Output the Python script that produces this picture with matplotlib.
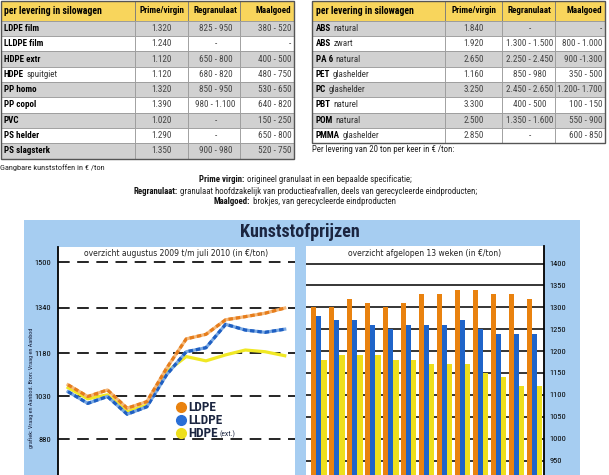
import matplotlib.pyplot as plt
from matplotlib import font_manager as fm
from matplotlib.patches import Rectangle
from matplotlib.lines import Line2D

W, H = 609, 475

# smalle letter (Helvetica Condensed-achtig) als die er is
namen = {f.name for f in fm.fontManager.ttflist}
SMAL = 'DejaVu Sans'
for kand in ['Roboto Condensed', 'Archivo Narrow', 'Asap Condensed', 'Liberation Sans Narrow']:
    if kand in namen:
        SMAL = kand
        break
plt.rcParams['font.family'] = [SMAL, 'DejaVu Sans']

# tabel links: gangbare kunststoffen
kop = ["per levering in silowagen", "Prime/virgin", "Regranulaat", "Maalgoed"]
l_vet = ["LDPE film", "LLDPE film", "HDPE extr", "HDPE", "PP homo", "PP copol", "PVC", "PS helder", "PS slagsterk"]
l_rest = ["", "", "", "spuitgiet", "", "", "", "", ""]
l_prime = ["1.320", "1.240", "1.120", "1.120", "1.320", "1.390", "1.020", "1.290", "1.350"]
l_regr = ["825 - 950", "-", "650 - 800", "680 - 820", "850 - 950", "980 - 1.100", "-", "-", "900 - 980"]
l_maal = ["380 - 520", "-", "400 - 500", "480 - 750", "530 - 650", "640 - 820", "150 - 250", "650 - 800", "520 - 750"]

# tabel rechts: technische kunststoffen
r_vet = ["ABS", "ABS", "PA 6", "PET", "PC", "PBT", "POM", "PMMA"]
r_rest = ["natural", "zwart", "natural", "glashelder", "glashelder", "naturel", "natural", "glashelder"]
r_prime = ["1.840", "1.920", "2.650", "1.160", "3.250", "3.300", "2.500", "2.850"]
r_regr = ["-", "1.300 - 1.500", "2.250 - 2.450", "850 - 980", "2.450 - 2.650", "400 - 500", "1.350 - 1.600", "-"]
r_maal = ["-", "800 - 1.000", "900 -1.300", "350 - 500", "1.200- 1.700", "100 - 150", "550 - 900", "600 - 850"]

# grafiek links: maandprijzen aug 2009 t/m jul 2010
maanden = list(range(12))
ldpe = [1070, 1029, 1052, 988, 1011, 1128, 1231, 1247, 1298, 1309, 1321, 1339]
lldpe = [1046, 1005, 1029, 967, 993, 1105, 1186, 1200, 1282, 1262, 1254, 1265]
hdpe = [1060, 1021, 1035, 976, 999, 1116, 1169, 1154, 1175, 1192, 1186, 1172]
links_ticks = [880, 1030, 1180, 1340, 1500]

# grafiek rechts: afgelopen 13 weken
weken = list(range(13))
w_ldpe = [1300, 1300, 1320, 1310, 1300, 1310, 1330, 1330, 1340, 1340, 1330, 1330, 1320]
w_lldpe = [1280, 1270, 1270, 1260, 1250, 1260, 1260, 1260, 1270, 1250, 1240, 1240, 1240]
w_hdpe = [1180, 1190, 1190, 1190, 1180, 1180, 1170, 1170, 1170, 1150, 1140, 1120, 1120]
rechts_ticks = [950, 1000, 1050, 1100, 1150, 1200, 1250, 1300, 1350, 1400]

ORANJE, BLAUW, GEEL = '#e9820f', '#1f64c9', '#eedf1c'
NAVY = '#1b2540'


def rect(x0, y0, x1, y1):
    return [x0 / W, 1 - y1 / H, (x1 - x0) / W, (y1 - y0) / H]


fig = plt.figure(figsize=(W / 100, H / 100), dpi=100)
bg = fig.add_axes([0, 0, 1, 1])
bg.set_xlim(0, W)
bg.set_ylim(H, 0)
bg.axis('off')
rend = fig.canvas.get_renderer()


def tabel(xs, vet, rest, prime, regr, maal, kop_h=20.3, rij_h=15.3):
    y = 0.5
    for c in range(4):
        bg.add_patch(Rectangle((xs[c], y), xs[c + 1] - xs[c], kop_h, fc='#f8d55c', ec='#7a7a7a', lw=0.6))
    yc = y + kop_h / 2
    bg.text(xs[0] + 3.5, yc, kop[0], fontsize=7, fontweight='bold', va='center', ha='left')
    bg.text((xs[1] + xs[2]) / 2, yc, kop[1], fontsize=6.5, fontweight='bold', va='center', ha='center')
    bg.text((xs[2] + xs[3]) / 2 + 1, yc, kop[2], fontsize=6.5, fontweight='bold', va='center', ha='center')
    bg.text(xs[4] - 3, yc, kop[3], fontsize=6.5, fontweight='bold', va='center', ha='right')
    y += kop_h
    for r in range(len(vet)):
        fc = '#d1d1d1' if r % 2 == 0 else 'white'
        for c in range(4):
            bg.add_patch(Rectangle((xs[c], y), xs[c + 1] - xs[c], rij_h, fc=fc, ec='#9a9a9a', lw=0.6))
        yc = y + rij_h / 2
        t = bg.text(xs[0] + 3.5, yc, vet[r], fontsize=6.5, fontweight='bold', va='center', ha='left')
        if rest[r]:
            bg.annotate(rest[r], xy=(1, 0), xycoords=t, xytext=(2, 0), textcoords='offset points',
                        fontsize=6.5, va='bottom', ha='left', color='#333333')
        bg.text((xs[1] + xs[2]) / 2, yc, prime[r], fontsize=6.6, va='center', ha='center', color='#444444')
        bg.text((xs[2] + xs[3]) / 2 + 1.5, yc, regr[r], fontsize=6.6, va='center', ha='center', color='#444444')
        bg.text(xs[4] - 2.5, yc, maal[r], fontsize=6.6, va='center', ha='right', color='#444444')
        y += rij_h
    bg.add_patch(Rectangle((xs[0], 0.5), xs[-1] - xs[0], y - 0.5, fc='none', ec='#555555', lw=1.0))
    return y


tabel([0.5, 135, 188, 240, 294], l_vet, l_rest, l_prime, l_regr, l_maal)
tabel([312, 445, 502, 555, 605], r_vet, r_rest, r_prime, r_regr, r_maal)

bg.text(0.5, 168, "Gangbare kunststoffen in € /ton", fontsize=6, va='center', ha='left', color='#222222')
bg.text(312, 150, "Per levering van 20 ton per keer in € /ton:", fontsize=6.3, va='center', ha='left', color='#222222')

# uitleg: vet begrip + gewone tekst, samen gecentreerd
uitleg = [("Prime virgin:", "origineel granulaat in een bepaalde specificatie;"),
          ("Regranulaat:", "granulaat hoofdzakelijk van productieafvallen, deels van gerecycleerde eindproducten;"),
          ("Maalgoed:", "brokjes, van gerecycleerde eindproducten")]
for i, (a, b) in enumerate(uitleg):
    y = 180 + i * 11
    ta = bg.text(0, y, a, fontsize=6.3, fontweight='bold', va='center', ha='left', color='#111111')
    tb = bg.text(0, y, b, fontsize=6.3, va='center', ha='left', color='#222222')
    wa = ta.get_window_extent(rend).width
    wb = tb.get_window_extent(rend).width
    x0 = 305 - (wa + 2.5 + wb) / 2
    ta.set_x(x0)
    tb.set_x(x0 + wa + 2.5)

# blauw paneel
bg.add_patch(Rectangle((24, 220), 556, 260, fc='#a6cdf1', ec='none'))
bg.text(300, 232, "Kunststofprijzen", fontsize=13, fontweight='bold', color=NAVY, ha='center', va='center')
bg.text(31, 328, "grafiek: Vraag en Aanbod. Bron: Vraag en Aanbod", fontsize=4.5, rotation=90,
        ha='center', va='top', color=NAVY)

# lijngrafiek
ax1 = fig.add_axes(rect(58, 247, 295, 475))
ax1.set_facecolor('white')
ax1.set_xlim(-0.51, 11.52)
ax1.set_ylim(754, 1553)
for s in ['top', 'right', 'bottom']:
    ax1.spines[s].set_visible(False)
ax1.spines['left'].set_linewidth(1.3)
ax1.set_xticks([])
ax1.set_yticks(links_ticks)
ax1.set_yticklabels([str(v) for v in links_ticks], fontsize=6)
ax1.tick_params(axis='y', length=0, pad=5)
for v in links_ticks:
    ax1.axhline(v, color='black', lw=1.2, ls=(0, (7, 4.5)), zorder=1)
ax1.plot(maanden, hdpe, color='#f0e824', lw=2.3, zorder=3)
ax1.plot(maanden, lldpe, color='#7aa9e3', lw=2.3, zorder=4)
ax1.plot(maanden, lldpe, color='#1f5fc2', lw=2.3, ls=(0, (1.4, 0.9)), zorder=4)
ax1.plot(maanden, ldpe, color='#f4b87a', lw=2.3, zorder=5)
ax1.plot(maanden, ldpe, color='#e67d1c', lw=2.3, ls=(0, (1.4, 0.9)), zorder=5)
ax1.text(0.5, 0.972, "overzicht augustus 2009 t/m juli 2010 (in €/ton)", transform=ax1.transAxes,
         fontsize=5.5, family='DejaVu Sans', ha='center', va='center', color='#222222')

handles = [Line2D([], [], ls='', marker='o', markersize=7, color=c) for c in (ORANJE, '#2a6fd6', GEEL)]
leg = ax1.legend(handles, ["LDPE", "LLDPE", "HDPE"], loc='upper left', bbox_to_anchor=(0.468, 0.352),
                 frameon=False, borderpad=0, handlelength=0.8, handletextpad=0.2, labelspacing=0.0,
                 prop={'weight': 'bold', 'size': 9.5})
for t in leg.get_texts():
    t.set_color(NAVY)

# staafgrafiek
ax2 = fig.add_axes(rect(306, 246, 544, 475))
ax2.set_facecolor('white')
bw = 0.29
x = list(weken)
ax2.bar([v - bw for v in x], w_ldpe, bw, color=ORANJE, zorder=2)
ax2.bar(x, w_lldpe, bw, color=BLAUW, zorder=2)
ax2.bar([v + bw for v in x], w_hdpe, bw, color=GEEL, zorder=2)
ax2.set_xlim(-0.705, 12.52)
ax2.set_ylim(917, 1440)
for v in rechts_ticks:
    ax2.axhline(v, color='black', lw=1.1, zorder=1)
for s in ['top', 'left', 'bottom']:
    ax2.spines[s].set_visible(False)
ax2.spines['right'].set_linewidth(1.3)
ax2.yaxis.tick_right()
ax2.set_xticks([])
ax2.set_yticks(rechts_ticks)
ax2.set_yticklabels([str(v) for v in rechts_ticks], fontsize=6)
ax2.tick_params(axis='y', length=0, pad=4)
ax2.text(0.5, 0.968, "overzicht afgelopen 13 weken (in €/ton)", transform=ax2.transAxes,
         fontsize=5.5, family='DejaVu Sans', ha='center', va='center', color='#222222')

# "(ext.)" klein achter HDPE in de legenda (figuurtekst, boven de assen)
fig.canvas.draw()
bb = leg.get_texts()[2].get_window_extent(rend)
fig.text((bb.x1 + 1.5) / W, (bb.y0 + 2) / H, "(ext.)", fontsize=5.5, color=NAVY, ha='left', va='bottom')

fig.savefig('out.png', dpi=100)
